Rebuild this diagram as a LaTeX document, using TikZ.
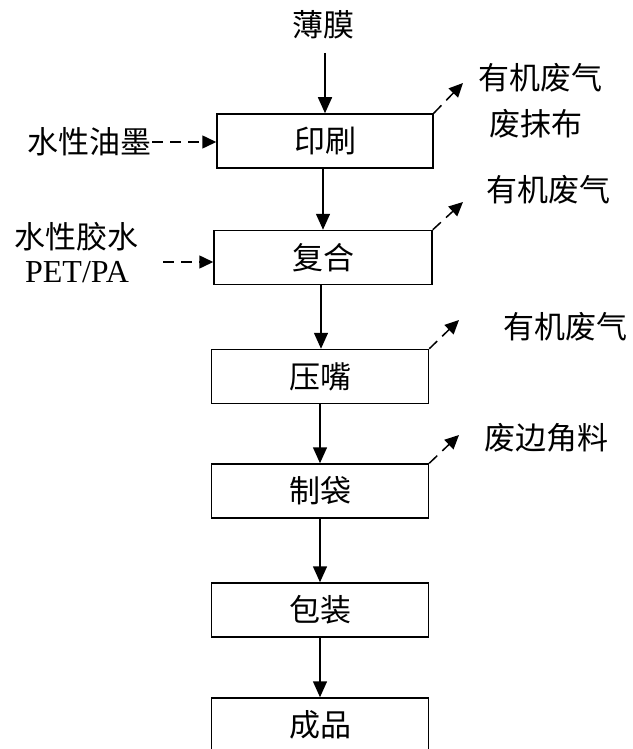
\documentclass[tikz,border=0pt]{standalone}
\usepackage{fontspec}
\setmainfont{Liberation Serif}
\newfontfamily\cjk{Noto Sans CJK SC}
\usetikzlibrary{arrows.meta}
\tikzset{
  procbox/.style={draw, line width=1.5pt, minimum height=54pt, inner sep=0pt, font=\cjk\fontsize{31}{33}\selectfont},
  lbl/.style={inner sep=0pt, font=\cjk\fontsize{31}{33}\selectfont},
  latlbl/.style={inner sep=0pt, font=\fontsize{32}{34}\selectfont},
  flow/.style={line width=1.5pt, -{Triangle[length=16pt,width=14pt]}},
  side/.style={line width=1.5pt, dash pattern=on 11pt off 7pt, -{Triangle[length=14pt,width=13pt]}}
}
\begin{document}
\begin{tikzpicture}[x=1pt,y=-1pt]
\useasboundingbox (0,0) rectangle (632,749);
\clip (0,0) rectangle (632,749);
% boxes
\node[procbox, minimum width=216pt] (b1) at (325,141) {印刷};
\node[procbox, minimum width=218pt] (b2) at (323,257.5) {复合};
\node[procbox, minimum width=217pt] (b3) at (320,376.5) {压嘴};
\node[procbox, minimum width=217pt] (b4) at (320,491) {制袋};
\node[procbox, minimum width=217pt] (b5) at (320,610) {包装};
\node[procbox, minimum width=217pt] (b6) at (320,725) {成品};
% labels
\node[lbl] (film) at (323,25) {薄膜};
\node[lbl, anchor=east] (ink) at (152,142) {水性油墨};
\node[lbl] (glue) at (76,237) {水性胶水};
\node[latlbl] (pet) at (77,272) {PET/PA};
\node[lbl] (o1) at (540,78) {有机废气};
\node[lbl] (o1b) at (536,124) {废抹布};
\node[lbl] (o2) at (548,190) {有机废气};
\node[lbl] (o3) at (565,327) {有机废气};
\node[lbl] (o4) at (546,438) {废边角料};
% free ends
\coordinate (film0) at (325,53);
\coordinate (gl0) at (163,262);
\coordinate (e1) at (463,83);
\coordinate (e2) at (463,202);
\coordinate (e3) at (459,320);
\coordinate (e4) at (459,435);
% main flow
\draw[flow] (film0) -- (film0 |- b1.north);
\draw[flow] (b1.south -| 323,0) -- (323,0 |- b2.north);
\draw[flow] (b2.south -| 321,0) -- (321,0 |- b3.north);
\draw[flow] (b3.south) -- (b4.north);
\draw[flow] (b4.south) -- (b5.north);
\draw[flow] (b5.south) -- (b6.north);
% inputs
\draw[side] (ink.east) -- (ink.east -| b1.west);
\draw[side] (gl0) -- (gl0 -| b2.west);
% outputs
\draw[side] (b1.north east) -- (e1);
\draw[side] (b2.north east) -- (e2);
\draw[side] (b3.north east) -- (e3);
\draw[side] (b4.north east) -- (e4);
\end{tikzpicture}
\end{document}
